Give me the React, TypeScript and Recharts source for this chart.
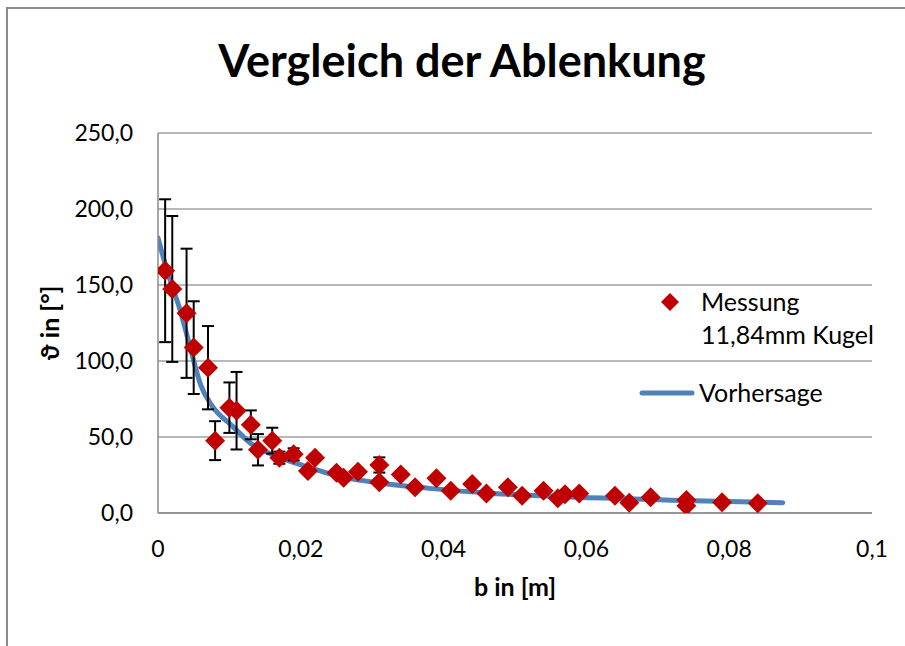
import React from 'react';
import { ComposedChart, Line, Scatter, XAxis, YAxis, CartesianGrid, ErrorBar } from 'recharts';

// Messung 11,84mm Kugel
const measB = [0.001, 0.002, 0.004, 0.005, 0.007, 0.008, 0.010, 0.011, 0.013, 0.014, 0.016, 0.017, 0.019, 0.021, 0.022, 0.025, 0.026, 0.028, 0.031, 0.031, 0.034, 0.036, 0.039, 0.041, 0.044, 0.046, 0.049, 0.051, 0.054, 0.056, 0.057, 0.059, 0.064, 0.066, 0.069, 0.074, 0.074, 0.079, 0.084];
const measTheta = [159.4, 147.4, 131.4, 108.8, 95.6, 47.6, 69.3, 67.3, 58.0, 41.6, 47.6, 36.4, 38.6, 27.6, 36.4, 26.5, 23.2, 27.2, 31.6, 20.2, 25.4, 16.9, 22.8, 14.7, 19.1, 12.9, 16.9, 11.4, 14.7, 9.7, 12.4, 12.9, 11.4, 6.8, 10.3, 8.6, 4.8, 7.0, 6.4];
const measErr = [47, 48, 42.5, 30.5, 27.4, 12.8, 16.6, 25.5, 9.5, 10.3, 8.5, 4, 4, 2, 2, 2, 2, 2, 5, 2, 2, 1.5, 1.5, 1.5, 1.5, 1, 1, 1, 1, 1, 1, 1, 1, 1, 1, 1, 1, 1, 1];

// Vorhersage
const predB = [0, 0.001, 0.002, 0.003, 0.0045, 0.006, 0.0075, 0.0105, 0.013, 0.016, 0.021, 0.025, 0.03, 0.038, 0.047, 0.057, 0.075, 0.0875];
const predTheta = [181, 164, 149, 135, 109, 84, 71, 56.8, 45.8, 38.5, 30.2, 24.5, 20.4, 16.2, 12.9, 10.7, 8.1, 6.8];

const xTicks = [0, 0.02, 0.04, 0.06, 0.08, 0.1];
const yTicks = [0, 50, 100, 150, 200, 250];

const measData = measB.map((b, i) => ({ b, theta: measTheta[i], err: measErr[i] }));
const predData = predB.map((b, i) => ({ b, theta: predTheta[i] }));

const FONT = 'Lato, "Open Sans", sans-serif';
const RED = '#C00000';
const BLUE = '#4F81BD';

const fmtY = (v: number) => v.toFixed(1).replace('.', ',');
const fmtX = (v: number) => String(v).replace('.', ',');

const Diamond = (props: any) => {
  const { cx, cy } = props;
  if (cx == null || cy == null) return null;
  const r = 10;
  return <polygon points={`${cx},${cy - r} ${cx + r},${cy} ${cx},${cy + r} ${cx - r},${cy}`} fill={RED} />;
};

const XTitle = (props: any) => {
  const vb = props.viewBox || { x: 158, y: 513, width: 714, height: 90 };
  const cx = vb.x + vb.width / 2;
  return (
    <text x={cx} y={vb.y + 83} textAnchor="middle" fontFamily={FONT} fontWeight="bold" fontSize={25} fill="#000">
      b in [m]
    </text>
  );
};

const YTitle = (props: any) => {
  const vb = props.viewBox || { x: 0, y: 133, width: 158, height: 380 };
  const cx = vb.x + 49;
  const cy = vb.y + vb.height / 2;
  return (
    <text x={cx} y={cy} transform={`rotate(-90 ${cx} ${cy})`} textAnchor="middle" dominantBaseline="central" fontFamily={FONT} fontWeight="bold" fontSize={25} fill="#000">
      ϑ in [°]
    </text>
  );
};

export default function App() {
  return (
    <div style={{ position: 'absolute', left: 0, top: 0, width: 905, height: 646, background: '#fff', overflow: 'hidden' }}>
      <div style={{ position: 'absolute', left: 6, top: 7, width: 1000, height: 1000, borderLeft: '2px solid #8c8c8c', borderTop: '2px solid #8c8c8c' }} />
      <div style={{ position: 'absolute', left: 0, top: 0 }}>
        <ComposedChart width={905} height={646} margin={{ top: 133, right: 33, bottom: 43, left: 0 }}>
          <CartesianGrid vertical={false} stroke="#a0a0a0" strokeWidth={1.5} />
          <XAxis
            type="number"
            dataKey="b"
            domain={[0, 0.1]}
            ticks={xTicks}
            tickFormatter={fmtX}
            height={90}
            tickSize={0}
            tickMargin={28}
            tickLine={false}
            axisLine={{ stroke: '#8a8a8a', strokeWidth: 1.5 }}
            tick={{ fill: '#000', fontSize: 23, fontFamily: FONT }}
            allowDataOverflow
            label={XTitle}
          />
          <YAxis
            type="number"
            domain={[0, 250]}
            ticks={yTicks}
            tickFormatter={fmtY}
            width={158}
            tickSize={0}
            tickMargin={25}
            tickLine={false}
            axisLine={{ stroke: '#8a8a8a', strokeWidth: 1.5 }}
            tick={{ fill: '#000', fontSize: 23, fontFamily: FONT }}
            allowDataOverflow
            label={YTitle}
          />
          <Line
            data={predData}
            dataKey="theta"
            type="monotone"
            stroke={BLUE}
            strokeWidth={5}
            strokeLinecap="round"
            dot={false}
            activeDot={false}
            isAnimationActive={false}
          />
          <Scatter data={measData} dataKey="theta" shape={Diamond} isAnimationActive={false}>
            <ErrorBar dataKey="err" direction="y" width={6} stroke="#000" strokeWidth={2} isAnimationActive={false} />
          </Scatter>
        </ComposedChart>
      </div>
      <svg width={905} height={646} style={{ position: 'absolute', left: 0, top: 0, pointerEvents: 'none' }}>
        <text x={462} y={77} textAnchor="middle" fontFamily={FONT} fontWeight="bold" fontSize={45} fill="#000">
          Vergleich der Ablenkung
        </text>
        <polygon points="670,293 679,302 670,311 661,302" fill={RED} />
        <text x={701} y={311} fontFamily={FONT} fontSize={25} fill="#000">Messung</text>
        <text x={701} y={344} fontFamily={FONT} fontSize={25} fill="#000">11,84mm Kugel</text>
        <line x1={642} y1={393} x2={692} y2={393} stroke={BLUE} strokeWidth={5} strokeLinecap="round" />
        <text x={699} y={402} fontFamily={FONT} fontSize={25} fill="#000">Vorhersage</text>
      </svg>
    </div>
  );
}
